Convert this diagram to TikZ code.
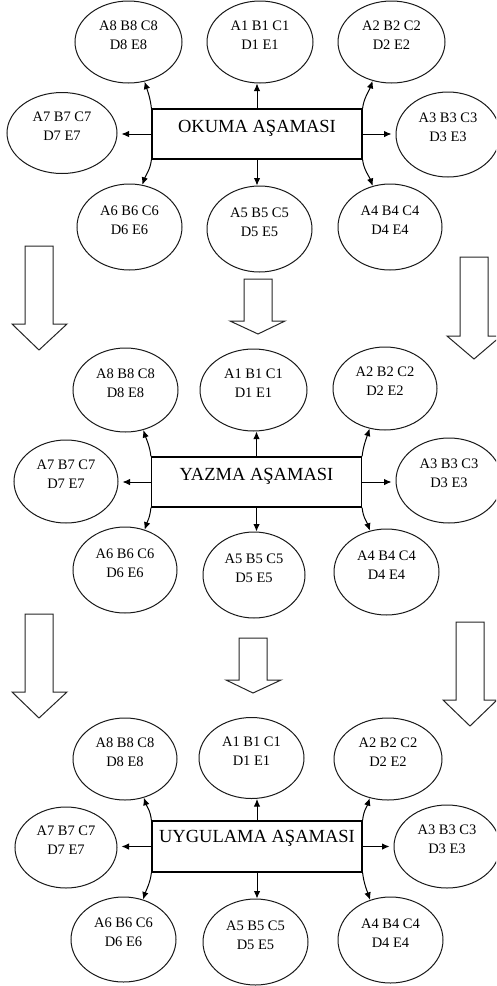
\documentclass[tikz,border=0pt]{standalone}
\usepackage{fontspec}
\setmainfont{Liberation Serif}
\usetikzlibrary{shapes.geometric,arrows.meta}
\newcommand{\etxt}[2]{\raisebox{6pt}[\height][\depth]{\begin{tabular}{@{}c@{}}#1\\#2\end{tabular}}}
\newcommand{\btxt}[2]{\raisebox{#1}[\height][\depth]{#2}}
\newcommand{\conns}[6]{%
  \draw[arr] (#1.north) -- (#1.north |- #21.south);
  \draw[arr] (#1.south) -- (#1.south |- #25.north);
  \draw[arr,shorten >=4pt] (#1.west) -- (#1.west -| #27.east);
  \draw[arr,shorten >=4pt] (#1.east) -- (#1.east -| #23.west);
  \draw[arr] (#1.north west) .. controls +(-1,-10) and +(3,9) .. (#28.#3);
  \draw[arr] (#1.north east) .. controls +(1,-10) and +(-3,9) .. (#22.#4);
  \draw[arr] (#1.south west) .. controls +(-1,10) and +(3,-9) .. (#26.#5);
  \draw[arr] (#1.south east) .. controls +(1,10) and +(-3,-9) .. (#24.#6);
}
\begin{document}
\begin{tikzpicture}[x=1pt,y=-1pt,
  ell/.style={draw=black!90,ellipse,inner sep=0pt,line width=1pt,
    minimum width=105pt,minimum height=84pt,font=\fontsize{14.5}{19}\selectfont},
  stagebox/.style={draw=black,rectangle,inner sep=0pt,line width=1.2pt,
    minimum width=210pt,minimum height=50pt,font=\fontsize{18.5}{22}\selectfont},
  arr/.style={line width=1pt,-{Latex[length=7.5pt,width=6.5pt]}},
  barrow/.style={draw=black!85,line width=1pt,fill=white,line join=miter}]
\path[use as bounding box] (0,0) rectangle (496,986);
\clip (0,0) rectangle (496,986);
\fill[white] (0,0) rectangle (496,986);

% ---------- Block 1 ----------
\node[stagebox] (b1) at (257,134) {\btxt{5.5pt}{OKUMA AŞAMASI}};
\node[ell,minimum width=107pt,minimum height=82pt] (p8) at (128.5,42) {\etxt{A8 B8 C8}{D8 E8}};
\node[ell,minimum width=106pt,minimum height=82pt] (p1) at (260,42) {\etxt{A1 B1 C1}{D1 E1}};
\node[ell,minimum width=107pt,minimum height=82pt] (p2) at (391.5,42) {\etxt{A2 B2 C2}{D2 E2}};
\node[ell,minimum width=110pt,minimum height=81pt] (p7) at (62,133) {\etxt{A7 B7 C7}{D7 E7}};
\node[ell,minimum width=104pt,minimum height=85pt] (p3) at (448,134.5) {\etxt{A3 B3 C3}{D3 E3}};
\node[ell,minimum width=105pt,minimum height=86pt] (p6) at (129.5,227) {\etxt{A6 B6 C6}{D6 E6}};
\node[ell,minimum width=105pt,minimum height=86pt] (p5) at (259.5,229) {\etxt{A5 B5 C5}{D5 E5}};
\node[ell,minimum width=104pt,minimum height=86pt] (p4) at (390,227) {\etxt{A4 B4 C4}{D4 E4}};
\conns{b1}{p}{-68}{-116}{73}{113}

% ---------- Block arrows 1 -> 2 ----------
\draw[barrow] (25,246) -- (53,246) -- (53,324) -- (67,324) -- (39,350) -- (12,324) -- (25,324) -- cycle;
\draw[barrow] (244,279) -- (272,279) -- (272,321) -- (285,321) -- (258,334) -- (230,321) -- (244,321) -- cycle;
\draw[barrow] (460,257) -- (488,257) -- (488,336) -- (501,336) -- (474,359) -- (447,336) -- (460,336) -- cycle;

% ---------- Block 2 ----------
\node[stagebox] (b2) at (256.5,482) {\btxt{6pt}{YAZMA AŞAMASI}};
\node[ell,minimum width=105pt,minimum height=84pt] (q8) at (125.5,390) {\etxt{A8 B8 C8}{D8 E8}};
\node[ell,minimum width=107pt,minimum height=82pt] (q1) at (253.5,390) {\etxt{A1 B1 C1}{D1 E1}};
\node[ell,minimum width=104pt,minimum height=83pt] (q2) at (385,388.5) {\etxt{A2 B2 C2}{D2 E2}};
\node[ell,minimum width=104pt,minimum height=83pt] (q7) at (66,481.5) {\etxt{A7 B7 C7}{D7 E7}};
\node[ell,minimum width=106pt,minimum height=85pt] (q3) at (449,480.5) {\etxt{A3 B3 C3}{D3 E3}};
\node[ell,minimum width=104pt,minimum height=86pt] (q6) at (125,570) {\etxt{A6 B6 C6}{D6 E6}};
\node[ell,minimum width=102pt,minimum height=86pt] (q5) at (254,575) {\etxt{A5 B5 C5}{D5 E5}};
\node[ell,minimum width=105pt,minimum height=86pt] (q4) at (386.5,572) {\etxt{A4 B4 C4}{D4 E4}};
\conns{b2}{q}{-66}{-111}{64}{112}

% ---------- Block arrows 2 -> 3 ----------
\draw[barrow] (25,614) -- (53,614) -- (53,692) -- (67,692) -- (39,718) -- (12,692) -- (25,692) -- cycle;
\draw[barrow] (239,638) -- (267,638) -- (267,680) -- (281,680) -- (253,693) -- (226,680) -- (239,680) -- cycle;
\draw[barrow] (456,622) -- (484,622) -- (484,700) -- (497,700) -- (470,726) -- (443,700) -- (456,700) -- cycle;

% ---------- Block 3 ----------
\node[stagebox,minimum height=51pt] (b3) at (257,846.5) {\btxt{8pt}{UYGULAMA AŞAMASI}};
\node[ell,minimum width=104pt,minimum height=82pt] (r8) at (125,759) {\etxt{A8 B8 C8}{D8 E8}};
\node[ell,minimum width=105pt,minimum height=81pt] (r1) at (251.5,758) {\etxt{A1 B1 C1}{D1 E1}};
\node[ell,minimum width=108pt,minimum height=82pt] (r2) at (388,759) {\etxt{A2 B2 C2}{D2 E2}};
\node[ell,minimum width=102pt,minimum height=81pt] (r7) at (66,847.5) {\etxt{A7 B7 C7}{D7 E7}};
\node[ell,minimum width=106pt,minimum height=83pt] (r3) at (447,846.5) {\etxt{A3 B3 C3}{D3 E3}};
\node[ell,minimum width=105pt,minimum height=85pt] (r6) at (123.5,939.5) {\etxt{A6 B6 C6}{D6 E6}};
\node[ell,minimum width=105pt,minimum height=86pt] (r5) at (255.5,942) {\etxt{A5 B5 C5}{D5 E5}};
\node[ell,minimum width=105pt,minimum height=86pt] (r4) at (390.5,940) {\etxt{A4 B4 C4}{D4 E4}};
\conns{b3}{r}{-64}{-115}{64}{117}
\end{tikzpicture}
\end{document}
